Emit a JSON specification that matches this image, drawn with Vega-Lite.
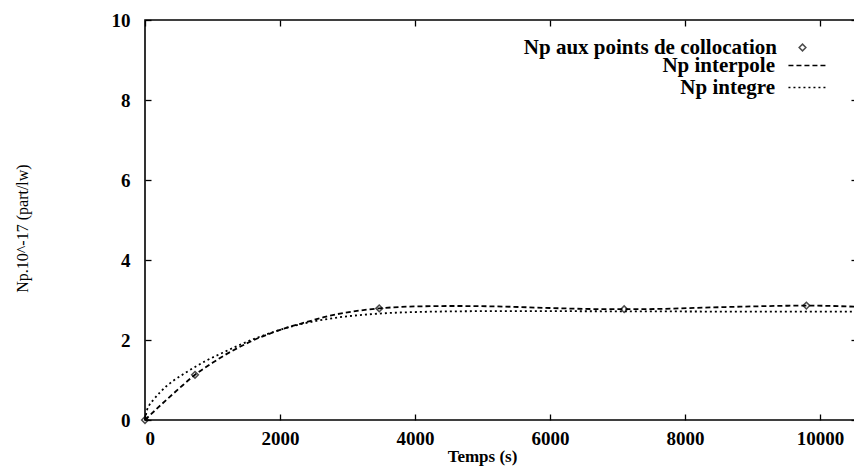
{
  "$schema": "https://vega.github.io/schema/vega-lite/v6.json",
  "width": 712,
  "height": 400,
  "padding": {"left": 145, "top": 20, "right": 0, "bottom": 50},
  "autosize": {"type": "none"},
  "background": "white",
  "config": {
    "view": {"stroke": "black", "strokeWidth": 1.6},
    "font": "Liberation Serif",
    "axis": {
      "grid": false, "domain": false, "tickColor": "black", "tickSize": -6, "tickWidth": 1.3,
      "labelFont": "Liberation Serif", "labelFontSize": 19, "labelFontWeight": "bold", "labelColor": "black",
      "titleColor": "black", "titleFont": "Liberation Serif"
    }
  },
  "datasets": {
    "curves": [
      {"series": "Np interpole", "t": 0, "v": 0},
      {"series": "Np interpole", "t": 250, "v": 0.4},
      {"series": "Np interpole", "t": 500, "v": 0.78},
      {"series": "Np interpole", "t": 741, "v": 1.13},
      {"series": "Np interpole", "t": 1000, "v": 1.43},
      {"series": "Np interpole", "t": 1160, "v": 1.6},
      {"series": "Np interpole", "t": 1407, "v": 1.83},
      {"series": "Np interpole", "t": 1654, "v": 2.03},
      {"series": "Np interpole", "t": 1850, "v": 2.16},
      {"series": "Np interpole", "t": 2049, "v": 2.28},
      {"series": "Np interpole", "t": 2395, "v": 2.45},
      {"series": "Np interpole", "t": 2650, "v": 2.57},
      {"series": "Np interpole", "t": 2889, "v": 2.66},
      {"series": "Np interpole", "t": 3200, "v": 2.74},
      {"series": "Np interpole", "t": 3471, "v": 2.79},
      {"series": "Np interpole", "t": 4025, "v": 2.84},
      {"series": "Np interpole", "t": 4600, "v": 2.85},
      {"series": "Np interpole", "t": 5200, "v": 2.84},
      {"series": "Np interpole", "t": 6000, "v": 2.8},
      {"series": "Np interpole", "t": 6600, "v": 2.775},
      {"series": "Np interpole", "t": 7100, "v": 2.77},
      {"series": "Np interpole", "t": 7700, "v": 2.78},
      {"series": "Np interpole", "t": 8300, "v": 2.81},
      {"series": "Np interpole", "t": 9000, "v": 2.84},
      {"series": "Np interpole", "t": 9800, "v": 2.86},
      {"series": "Np interpole", "t": 10200, "v": 2.85},
      {"series": "Np interpole", "t": 10550, "v": 2.83},
      {"series": "Np integre", "t": 0, "v": 0},
      {"series": "Np integre", "t": 30, "v": 0.25},
      {"series": "Np integre", "t": 60, "v": 0.36},
      {"series": "Np integre", "t": 123, "v": 0.5},
      {"series": "Np integre", "t": 222, "v": 0.69},
      {"series": "Np integre", "t": 320, "v": 0.85},
      {"series": "Np integre", "t": 420, "v": 0.98},
      {"series": "Np integre", "t": 600, "v": 1.18},
      {"series": "Np integre", "t": 914, "v": 1.49},
      {"series": "Np integre", "t": 1150, "v": 1.68},
      {"series": "Np integre", "t": 1407, "v": 1.88},
      {"series": "Np integre", "t": 1650, "v": 2.05},
      {"series": "Np integre", "t": 1901, "v": 2.2},
      {"series": "Np integre", "t": 2049, "v": 2.28},
      {"series": "Np integre", "t": 2395, "v": 2.43},
      {"series": "Np integre", "t": 2650, "v": 2.51},
      {"series": "Np integre", "t": 2889, "v": 2.57},
      {"series": "Np integre", "t": 3382, "v": 2.65},
      {"series": "Np integre", "t": 4025, "v": 2.7},
      {"series": "Np integre", "t": 5000, "v": 2.72},
      {"series": "Np integre", "t": 6000, "v": 2.72},
      {"series": "Np integre", "t": 7500, "v": 2.715},
      {"series": "Np integre", "t": 9000, "v": 2.71},
      {"series": "Np integre", "t": 10550, "v": 2.71}
    ],
    "pts": [
      {"series": "Np aux points de collocation", "t": 0, "v": 0},
      {"series": "Np aux points de collocation", "t": 741, "v": 1.13},
      {"series": "Np aux points de collocation", "t": 3471, "v": 2.79},
      {"series": "Np aux points de collocation", "t": 7100, "v": 2.77},
      {"series": "Np aux points de collocation", "t": 9800, "v": 2.86}
    ]
  },
  "layer": [
    {
      "data": {"name": "curves"},
      "mark": {"type": "line", "color": "black", "strokeWidth": 1.8, "interpolate": "monotone"},
      "encoding": {
        "x": {"field": "t", "type": "quantitative", "scale": {"domain": [0, 10550], "nice": false},
          "axis": {"orient": "bottom", "values": [0, 2000, 4000, 6000, 8000, 10000], "format": "d", "labelPadding": 15, "title": "Temps (s)",
            "titleFontSize": 17, "titleFontWeight": "bold", "titleX": 337, "titleY": 36, "titleBaseline": "middle"}},
        "y": {"field": "v", "type": "quantitative", "scale": {"domain": [0, 10], "nice": false},
          "axis": {"orient": "left", "values": [0, 2, 4, 6, 8, 10], "labelPadding": 21, "title": "Np.10^-17 (part/lw)",
            "titleFontSize": 16, "titleFontWeight": "normal", "titleX": -123, "titleY": 208, "titleBaseline": "middle"}},
        "strokeDash": {"field": "series", "type": "nominal",
          "scale": {"domain": ["Np interpole", "Np integre"], "range": [[5, 3], [2, 3]]},
          "legend": {"orient": "none", "legendX": 652, "legendY": 35, "title": null, "padding": 0,
            "symbolType": "M-2.2,0H2.2", "symbolSize": 300, "symbolStrokeColor": "black", "symbolStrokeWidth": 1.5,
            "labelAlign": "right", "labelOffset": -43, "labelFontSize": 21, "labelFont": "Liberation Serif",
            "labelFontWeight": "bold", "labelColor": "black", "rowPadding": 0, "labelLimit": 400}}
      }
    },
    {
      "data": {"name": "pts"},
      "mark": {"type": "point", "filled": false, "color": "black", "size": 45, "strokeWidth": 1.5},
      "encoding": {
        "x": {"field": "t", "type": "quantitative",
          "axis": {"orient": "top", "values": [0, 2000, 4000, 6000, 8000, 10000], "labels": false, "title": null}},
        "y": {"field": "v", "type": "quantitative",
          "axis": {"orient": "right", "values": [0, 2, 4, 6, 8, 10], "labels": false, "title": null}},
        "shape": {"field": "series", "type": "nominal",
          "scale": {"domain": ["Np aux points de collocation"], "range": ["diamond"]},
          "legend": {"orient": "none", "legendX": 647, "legendY": 17, "title": null, "padding": 0,
            "symbolSize": 45, "symbolStrokeColor": "black", "symbolFillColor": "transparent", "symbolStrokeWidth": 1.5,
            "labelAlign": "right", "labelOffset": -36, "labelFontSize": 21, "labelFont": "Liberation Serif",
            "labelFontWeight": "bold", "labelColor": "black", "labelLimit": 400}}
      }
    }
  ],
  "resolve": {"axis": {"x": "independent", "y": "independent"}}
}
